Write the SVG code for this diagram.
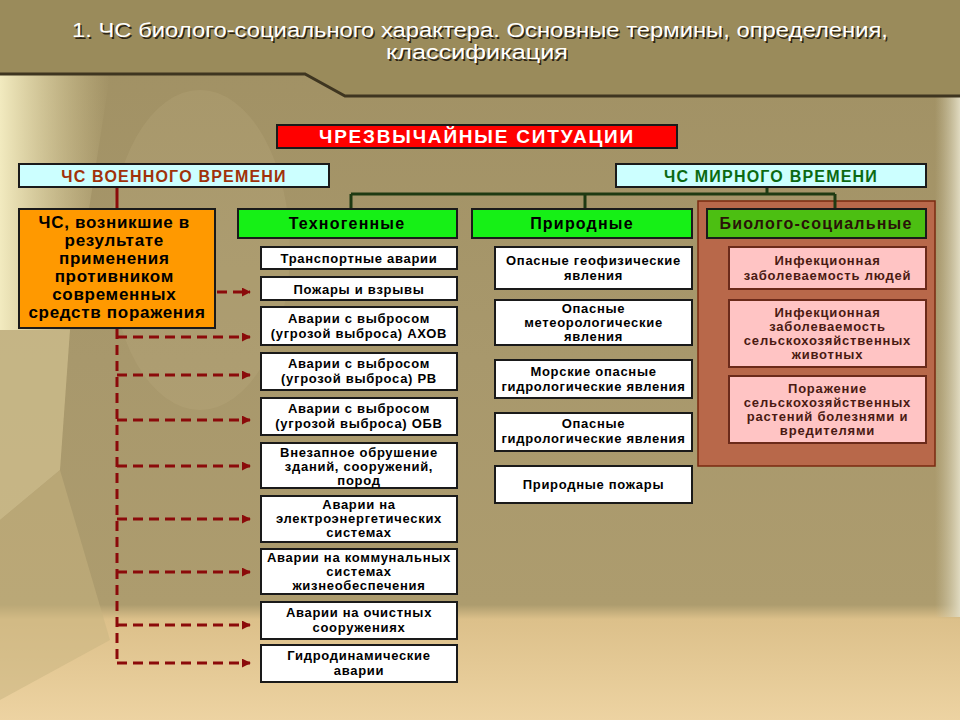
<svg xmlns="http://www.w3.org/2000/svg" width="960" height="720" viewBox="0 0 960 720">
<defs>
<style>
text{font-family:"Liberation Sans",Arial,sans-serif;font-weight:bold;text-anchor:middle}
.t{font-size:20px;font-weight:normal;fill:#ffffff}
.ts{font-size:20px;font-weight:normal;fill:#2e2616}
.bx{stroke:#1a1a1a;stroke-width:2}
.w{fill:#ffffff}
.s{font-size:13px;fill:#000;letter-spacing:0.7px}
.p{font-size:13px;fill:#4a1a12;letter-spacing:0.8px}
.h{font-size:16px;letter-spacing:1.2px}
.green{fill:#16f016}
.pink{fill:#ffc4c4;stroke:#6b2a1a;stroke-width:2}
.gl{stroke:#1e3a12;stroke-width:3;fill:none}
.rd{stroke:#8b0a0a;stroke-width:3;fill:none;stroke-dasharray:10 6}
</style>
<marker id="ar" viewBox="0 0 10 10" refX="9" refY="5" markerWidth="3" markerHeight="3" orient="auto" markerUnits="strokeWidth">
<path d="M0,0 L10,5 L0,10 z" fill="#8b0a0a"/>
</marker>
<linearGradient id="bg" x1="0" y1="0" x2="0" y2="1">
<stop offset="0" stop-color="#a09063"/>
<stop offset="0.5" stop-color="#a8986c"/>
<stop offset="0.84" stop-color="#ad9c6e"/>
<stop offset="0.86" stop-color="#dcc08a"/>
<stop offset="1" stop-color="#edd3a2"/>
</linearGradient>
<linearGradient id="lft" x1="0" y1="0" x2="1" y2="0">
<stop offset="0" stop-color="#f6efc4" stop-opacity="0.95"/>
<stop offset="1" stop-color="#e4d7a2" stop-opacity="0"/>
</linearGradient>
<linearGradient id="rgt" x1="0" y1="0" x2="1" y2="0">
<stop offset="0" stop-color="#c9c1a0" stop-opacity="0"/>
<stop offset="1" stop-color="#e0dac0"/>
</linearGradient>
</defs>

<g id="background">
<rect x="0" y="0" width="960" height="720" fill="url(#bg)"/>
<polygon points="0,75 110,75 70,330 0,330" fill="url(#lft)"/>
<polygon points="0,330 70,330 60,470 0,520" fill="#d8c896" opacity="0.6"/>
<polygon points="0,520 60,470 110,640 0,700" fill="#c8b480" opacity="0.5"/>
<ellipse cx="200" cy="250" rx="90" ry="160" fill="#c6b888" opacity="0.18"/>
<rect x="935" y="97" width="25" height="520" fill="url(#rgt)"/>
<polygon points="0,0 960,0 960,95 345,95 305,73 0,73" fill="#9a8b5b"/>
<polyline points="0,74 305,74 345,96 960,96" fill="none" stroke="#3e3520" stroke-width="3"/>
</g>

<g id="title">
<text class="ts" x="481.5" y="38.5" textLength="816" lengthAdjust="spacingAndGlyphs">1. ЧС биолого-социального характера. Основные термины, определения,</text>
<text class="t" x="480" y="37" textLength="816" lengthAdjust="spacingAndGlyphs">1. ЧС биолого-социального характера. Основные термины, определения,</text>
<text class="ts" x="478.5" y="60.5" textLength="182" lengthAdjust="spacingAndGlyphs">классификация</text>
<text class="t" x="477" y="59" textLength="182" lengthAdjust="spacingAndGlyphs">классификация</text>
</g>

<g id="panel-bio">
<rect x="698" y="201" width="237" height="265" fill="#b8684a" stroke="#7a2a10" stroke-width="1.5"/>
</g>

<g id="connectors">
<path class="gl" d="M767,187 V194 M351,194 H835 M351,194 V209 M585,194 V209 M835,194 V209"/>
<path d="M117,187 V209" stroke="#8b0a0a" stroke-width="3" fill="none"/>
<path class="rd" d="M117,329 V663"/>
<path class="rd" d="M217,292 H250" marker-end="url(#ar)"/>
<path class="rd" d="M117,337 H250" marker-end="url(#ar)"/>
<path class="rd" d="M117,375 H250" marker-end="url(#ar)"/>
<path class="rd" d="M117,420 H250" marker-end="url(#ar)"/>
<path class="rd" d="M117,466 H250" marker-end="url(#ar)"/>
<path class="rd" d="M117,519 H250" marker-end="url(#ar)"/>
<path class="rd" d="M117,572 H250" marker-end="url(#ar)"/>
<path class="rd" d="M117,625 H250" marker-end="url(#ar)"/>
<path class="rd" d="M117,663 H250" marker-end="url(#ar)"/>
</g>

<g id="n-main">
<rect class="bx" x="277" y="125" width="400" height="23" fill="#ff0000"/>
<text x="477" y="143" style="font-size:19px;letter-spacing:1.8px;fill:#ffffff">ЧРЕЗВЫЧАЙНЫЕ СИТУАЦИИ</text>
</g>

<g id="n-war">
<rect class="bx" x="19" y="164" width="310" height="23" fill="#ccffff"/>
<text class="h" x="174" y="181.5" fill="#a0320a">ЧС ВОЕННОГО ВРЕМЕНИ</text>
</g>

<g id="n-peace">
<rect class="bx" x="616" y="164" width="310" height="23" fill="#ccffff"/>
<text class="h" x="771" y="181.5" fill="#0b6a12">ЧС МИРНОГО ВРЕМЕНИ</text>
</g>

<g id="n-weapons">
<rect class="bx" x="19" y="209" width="196" height="119" fill="#ff9900"/>
<text style="font-size:17px;letter-spacing:0.7px;fill:#000">
<tspan x="117" y="228">ЧС, возникшие в</tspan>
<tspan x="117" y="246">результате</tspan>
<tspan x="117" y="264">применения</tspan>
<tspan x="117" y="282">противником</tspan>
<tspan x="117" y="300">современных</tspan>
<tspan x="117" y="318">средств поражения</tspan>
</text>
</g>

<g id="n-tech">
<rect class="bx green" x="238" y="209" width="219" height="29"/>
<text class="h" x="347" y="229" fill="#000">Техногенные</text>
</g>
<g id="n-nat">
<rect class="bx green" x="472" y="209" width="220" height="29"/>
<text class="h" x="582" y="229" fill="#000">Природные</text>
</g>
<g id="n-bio">
<rect class="bx" x="707" y="209" width="219" height="29" fill="#4cbf12"/>
<text class="h" x="816" y="229" fill="#2a1208">Биолого-социальные</text>
</g>

<g id="t1"><rect class="bx w" x="261" y="247" width="196" height="22"/>
<text class="s" x="359" y="263">Транспортные аварии</text></g>
<g id="t2"><rect class="bx w" x="261" y="277" width="196" height="23"/>
<text class="s" x="359" y="294">Пожары и взрывы</text></g>
<g id="t3"><rect class="bx w" x="261" y="307" width="196" height="38"/>
<text class="s"><tspan x="359" y="323">Аварии с выбросом</tspan><tspan x="359" y="338">(угрозой выброса) АХОВ</tspan></text></g>
<g id="t4"><rect class="bx w" x="261" y="353" width="196" height="37"/>
<text class="s"><tspan x="359" y="368">Аварии с выбросом</tspan><tspan x="359" y="383">(угрозой выброса) РВ</tspan></text></g>
<g id="t5"><rect class="bx w" x="261" y="398" width="196" height="37"/>
<text class="s"><tspan x="359" y="413">Аварии с выбросом</tspan><tspan x="359" y="428">(угрозой выброса) ОБВ</tspan></text></g>
<g id="t6"><rect class="bx w" x="261" y="443" width="196" height="45"/>
<text class="s"><tspan x="359" y="457">Внезапное обрушение</tspan><tspan x="359" y="471">зданий, сооружений,</tspan><tspan x="359" y="485">пород</tspan></text></g>
<g id="t7"><rect class="bx w" x="261" y="496" width="196" height="46"/>
<text class="s"><tspan x="359" y="509">Аварии на</tspan><tspan x="359" y="523">электроэнергетических</tspan><tspan x="359" y="537">системах</tspan></text></g>
<g id="t8"><rect class="bx w" x="261" y="549" width="196" height="45"/>
<text class="s"><tspan x="359" y="562">Аварии на коммунальных</tspan><tspan x="359" y="576">системах</tspan><tspan x="359" y="590">жизнеобеспечения</tspan></text></g>
<g id="t9"><rect class="bx w" x="261" y="602" width="196" height="37"/>
<text class="s"><tspan x="359" y="617">Аварии на очистных</tspan><tspan x="359" y="632">сооружениях</tspan></text></g>
<g id="t10"><rect class="bx w" x="261" y="645" width="196" height="37"/>
<text class="s"><tspan x="359" y="660">Гидродинамические</tspan><tspan x="359" y="675">аварии</tspan></text></g>

<g id="p1"><rect class="bx w" x="495" y="247" width="197" height="42"/>
<text class="s"><tspan x="593.5" y="265">Опасные геофизические</tspan><tspan x="593.5" y="280">явления</tspan></text></g>
<g id="p2"><rect class="bx w" x="495" y="300" width="197" height="45"/>
<text class="s"><tspan x="593.5" y="313">Опасные</tspan><tspan x="593.5" y="327">метеорологические</tspan><tspan x="593.5" y="341">явления</tspan></text></g>
<g id="p3"><rect class="bx w" x="495" y="360" width="197" height="38"/>
<text class="s"><tspan x="593.5" y="376">Морские опасные</tspan><tspan x="593.5" y="391">гидрологические явления</tspan></text></g>
<g id="p4"><rect class="bx w" x="495" y="413" width="197" height="38"/>
<text class="s"><tspan x="593.5" y="428">Опасные</tspan><tspan x="593.5" y="443">гидрологические явления</tspan></text></g>
<g id="p5"><rect class="bx w" x="495" y="466" width="197" height="37"/>
<text class="s" x="593.5" y="489">Природные пожары</text></g>

<g id="b1"><rect class="pink" x="729" y="247" width="197" height="42"/>
<text class="p"><tspan x="827.5" y="265">Инфекционная</tspan><tspan x="827.5" y="280">заболеваемость людей</tspan></text></g>
<g id="b2"><rect class="pink" x="729" y="300" width="197" height="67"/>
<text class="p"><tspan x="827.5" y="317">Инфекционная</tspan><tspan x="827.5" y="331">заболеваемость</tspan><tspan x="827.5" y="345">сельскохозяйственных</tspan><tspan x="827.5" y="359">животных</tspan></text></g>
<g id="b3"><rect class="pink" x="729" y="376" width="197" height="67"/>
<text class="p"><tspan x="827.5" y="393">Поражение</tspan><tspan x="827.5" y="407">сельскохозяйственных</tspan><tspan x="827.5" y="421">растений болезнями и</tspan><tspan x="827.5" y="435">вредителями</tspan></text></g>
</svg>
